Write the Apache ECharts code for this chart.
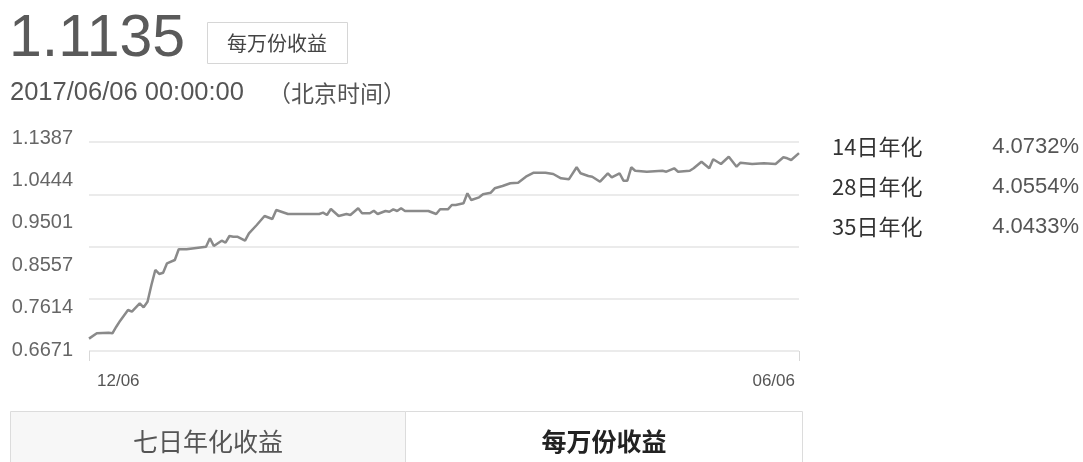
<!DOCTYPE html>
<html>
<head>
<meta charset="utf-8">
<script src="https://cdn.jsdelivr.net/npm/echarts@6/dist/echarts.min.js"></script>
<style>
html,body{margin:0;padding:0;background:#fff;}
#c{width:1083px;height:462px;}
</style>
</head>
<body>
<div id="c"></div>
<script>
// ---- data ----
const dayOffsets = [0,2,5,6,7,8,10,11,13,14,15,16,17,18,19,20,22,23,25,28,30,31,32,34,35,36,37,38,40,41,43,45,47,48,51,55,59,60,61,62,64,66,67,69,70,72,73,74,76,77,78,79,80,81,85,87,89,90,92,93,94,96,97,98,100,101,103,104,106,108,110,112,114,117,119,121,123,125,126,128,129,131,133,134,136,137,138,139,140,143,147,148,150,151,154,155,157,159,160,162,164,166,167,170,173,176,178,179,180,182];
const values = [0.6950,0.7070,0.7084,0.7070,0.7219,0.7355,0.7596,0.7558,0.7747,0.7657,0.7783,0.8160,0.8499,0.8409,0.8438,0.8650,0.8724,0.8966,0.8966,0.9002,0.9025,0.9214,0.9040,0.9160,0.9115,0.9266,0.9250,0.9250,0.9160,0.9327,0.9514,0.9717,0.9650,0.9853,0.9762,0.9762,0.9762,0.9792,0.9740,0.9875,0.9717,0.9762,0.9740,0.9891,0.9778,0.9778,0.9837,0.9762,0.9830,0.9814,0.9868,0.9830,0.9891,0.9830,0.9830,0.9830,0.9762,0.9868,0.9868,0.9965,0.9965,1.0004,1.0230,1.0078,1.0139,1.0207,1.0243,1.0342,1.0394,1.0455,1.0469,1.0604,1.0694,1.0694,1.0665,1.0568,1.0545,1.0816,1.0681,1.0620,1.0604,1.0491,1.0681,1.0591,1.0681,1.0514,1.0514,1.0816,1.0739,1.0717,1.0739,1.0717,1.0794,1.0717,1.0739,1.0794,1.0943,1.0794,1.0997,1.0891,1.1055,1.0830,1.0920,1.0891,1.0906,1.0891,1.1042,1.1019,1.0981,1.1135];
const yTickLabels = ['0.6671','0.7614','0.8557','0.9501','1.0444','1.1387'];
const xTickLabels = ['12/06','06/06'];
const periodLabels = ['14日年化','28日年化','35日年化'];
const periodValues = ['4.0732%','4.0554%','4.0433%'];
const headline = '1.1135';
const headlineUnit = '每万份收益';
const timeText = '2017/06/06 00:00:00';
const tzText = '（北京时间）';
const tabs = ['七日年化收益','每万份收益'];

const FONT = '"Liberation Sans", Arial, "Noto Sans CJK SC", sans-serif';
const CJK = '"Noto Sans CJK SC", "Liberation Sans", sans-serif';
const yMin = parseFloat(yTickLabels[0]);
const yMax = parseFloat(yTickLabels[yTickLabels.length - 1]);
const xMax = dayOffsets[dayOffsets.length - 1];

const chart = echarts.init(document.getElementById('c'));

const graphics = [
  {type:'text', left:9, top:10, style:{text:headline, font:'59px ' + FONT, fill:'#5a5a5a'}},
  {type:'rect', shape:{x:207.5, y:22.5, width:140, height:41}, style:{fill:'#fff', stroke:'#d6d6d6', lineWidth:1}},
  {type:'text', x:277, y:43, style:{text:headlineUnit, font:'20px ' + CJK, fill:'#444', align:'center', verticalAlign:'middle'}},
  {type:'text', x:10, y:93, style:{text:timeText, font:'25.5px ' + FONT, fill:'#555', verticalAlign:'middle'}},
  {type:'text', x:268, y:93, style:{text:tzText, font:'23px ' + CJK, fill:'#555', verticalAlign:'middle'}},
  // tabs
  {type:'rect', shape:{x:10.5, y:411.5, width:395, height:52}, style:{fill:'#f7f7f7', stroke:'#dcdcdc', lineWidth:1}},
  {type:'rect', shape:{x:405.5, y:411.5, width:397, height:52}, style:{fill:'#fff', stroke:'#dcdcdc', lineWidth:1}},
  {type:'text', x:208, y:441, style:{text:tabs[0], font:'25px ' + CJK, fill:'#555', align:'center', verticalAlign:'middle'}},
  {type:'text', x:604, y:441, style:{text:tabs[1], font:'bold 25px ' + CJK, fill:'#222', align:'center', verticalAlign:'middle'}}
];
periodLabels.forEach((lab, i) => {
  const y = 147 + i * 40;
  graphics.push({type:'text', x:832, y:y, style:{text:lab, font:'22px ' + CJK, fill:'#333', verticalAlign:'middle'}});
  graphics.push({type:'text', x:1079, y:y, style:{text:periodValues[i], font:'22px ' + FONT, fill:'#555', align:'right', verticalAlign:'middle'}});
});

chart.setOption({
  animation:false,
  backgroundColor:'#fff',
  grid:[
    {left:89, right:284, top:142, bottom:111, outerBoundsMode:'none'},
    {left:89, right:284, top:138, bottom:112, outerBoundsMode:'none'}
  ],
  xAxis:[
    {type:'value', gridIndex:0, min:0, max:xMax, interval:xMax,
     axisLine:{show:false}, splitLine:{show:false},
     axisTick:{show:true, length:10, lineStyle:{color:'#d8d8d8', width:1}},
     axisLabel:{show:true, margin:22, fontSize:17, fontFamily:FONT, color:'#555',
       formatter:(v) => v === 0 ? '{a|' + xTickLabels[0] + '}' : '{b|' + xTickLabels[1] + '}',
       alignMinLabel:'left', alignMaxLabel:'right',
       rich:{a:{padding:[0,0,0,8], fontSize:17, fontFamily:FONT, color:'#555'},
             b:{padding:[0,4,0,0], fontSize:17, fontFamily:FONT, color:'#555'}}}},
    {type:'value', gridIndex:1, min:0, max:1, show:false}
  ],
  yAxis:[
    {type:'value', gridIndex:0, min:yMin, max:yMax, show:true,
     axisLine:{show:false}, axisTick:{show:false}, axisLabel:{show:false}, splitLine:{show:false}},
    {type:'value', gridIndex:0, min:0, max:4, interval:1, show:true,
     axisLine:{show:false}, axisTick:{show:false}, axisLabel:{show:false},
     splitLine:{show:true, lineStyle:{color:'#ebebeb', width:2}}},
    {type:'value', gridIndex:1, min:0, max:yTickLabels.length - 1, interval:1, show:true,
     axisLine:{show:false}, axisTick:{show:false}, splitLine:{show:false},
     axisLabel:{show:true, margin:16, fontSize:20, fontFamily:FONT, color:'#666',
       formatter:(v) => yTickLabels[v]}}
  ],
  series:[{
    type:'line', xAxisIndex:0, yAxisIndex:0,
    data: dayOffsets.map((d, i) => [d, values[i]]),
    showSymbol:false, symbol:'none', smooth:false,
    lineStyle:{color:'#8a8a8a', width:2.5}
  }],
  graphic: graphics
});
</script>
</body>
</html>
